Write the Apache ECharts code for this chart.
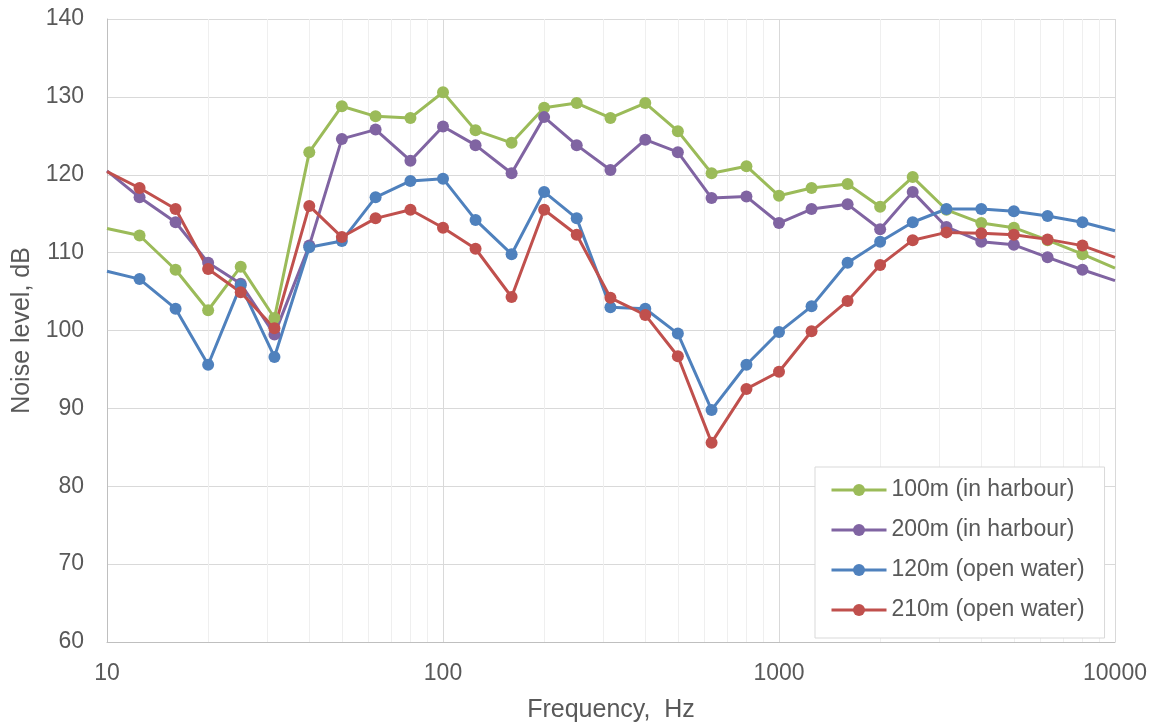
<!DOCTYPE html>
<html>
<head>
<meta charset="utf-8">
<script src="https://cdn.jsdelivr.net/npm/echarts@6/dist/echarts.min.js"></script>
<style>html,body{margin:0;padding:0;background:#fff}#c{width:1152px;height:722px}</style>
</head>
<body>
<div id="c"></div>
<script>
var freqs = [10,12.5,16,20,25,31.5,40,50,63,80,100,125,160,200,250,315,400,500,630,800,1000,1250,1600,2000,2500,3150,4000,5000,6300,8000,10000];
var harbour100 = [113.1,112.2,107.8,102.6,108.2,101.6,122.9,128.8,127.5,127.3,130.6,125.7,124.1,128.6,129.2,127.3,129.2,125.6,120.2,121.1,117.3,118.3,118.8,115.9,119.7,115.5,113.8,113.2,111.6,109.8,108.0];
var harbour200 = [120.5,117.1,113.9,108.7,106.0,99.5,110.9,124.6,125.8,121.8,126.2,123.8,120.2,127.4,123.8,120.6,124.5,122.9,117.0,117.2,113.8,115.6,116.2,113.0,117.8,113.3,111.4,111.0,109.4,107.8,106.4];
var open120 = [107.6,106.6,102.8,95.6,105.8,96.6,110.7,111.5,117.1,119.2,119.5,114.2,109.8,117.8,114.4,103.0,102.8,99.6,89.8,95.6,99.8,103.1,108.7,111.4,113.9,115.6,115.6,115.3,114.7,113.9,112.8];
var open210 = [120.4,118.3,115.6,107.9,104.9,100.3,116.0,112.0,114.4,115.5,113.2,110.5,104.3,115.5,112.3,104.2,102.0,96.7,85.6,92.5,94.7,99.9,103.8,108.4,111.6,112.6,112.5,112.3,111.7,110.9,109.4];
var seriesNames = ['100m (in harbour)','200m (in harbour)','120m (open water)','210m (open water)'];
var seriesColors = ['#9BBB59','#8064A2','#4F81BD','#C0504D'];
var minorFreqs = [20,30,40,50,60,70,80,90,200,300,400,500,600,700,800,900,2000,3000,4000,5000,6000,7000,8000,9000];
var yTicks = {min:60, max:140, interval:10};

function pairs(arr){ return freqs.map(function(f,i){ return [f, arr[i]]; }); }
var allData = [harbour100, harbour200, open120, open210];
var FONT = 'Liberation Sans, Arial, sans-serif';

var series = [{
  type:'line', data:[], silent:true, z:1,
  markLine:{
    silent:true, z:1, zlevel:0, symbol:['none','none'], animation:false,
    label:{show:false},
    lineStyle:{color:'#efefef', width:1, type:'solid'},
    emphasis:{disabled:true},
    data: minorFreqs.map(function(f){ return {xAxis:f}; })
  }
}];
allData.forEach(function(arr, k){
  series.push({
    name: seriesNames[k], type:'line', data: pairs(arr), z:3,
    color: seriesColors[k],
    symbol:'circle',
    symbolSize: function(v){ return (v[0]===10||v[0]===10000)?0:12; },
    lineStyle:{width:3, color:seriesColors[k]},
    itemStyle:{color:seriesColors[k]},
    animation:false
  });
});

var chart = echarts.init(document.getElementById('c'));
chart.setOption({
  backgroundColor:'#fff',
  grid:{left:107, right:37, top:19, bottom:80, containLabel:false, outerBoundsMode:'none'},
  xAxis:{
    type:'log', logBase:10, min:10, max:10000,
    name:'Frequency,  Hz', nameLocation:'middle', nameGap:56,
    nameTextStyle:{fontFamily:FONT, fontSize:25, color:'#595959'},
    axisLine:{show:true, lineStyle:{color:'#bfbfbf', width:1}},
    axisTick:{show:false},
    axisLabel:{fontFamily:FONT, fontSize:23, color:'#595959', margin:20,
      formatter:function(v){ return String(Math.round(v)); }},
    splitLine:{show:true, lineStyle:{color:'#d9d9d9', width:1}}
  },
  yAxis:{
    type:'value', min:yTicks.min, max:yTicks.max, interval:yTicks.interval,
    name:'Noise level, dB', nameLocation:'middle', nameGap:72, nameRotate:90,
    nameTextStyle:{fontFamily:FONT, fontSize:25, color:'#595959'},
    axisLine:{show:true, lineStyle:{color:'#bfbfbf', width:1}},
    axisTick:{show:false},
    axisLabel:{fontFamily:FONT, fontSize:23, color:'#595959', margin:23},
    splitLine:{show:true, lineStyle:{color:'#d9d9d9', width:1}}
  },
  legend:{
    data: seriesNames,
    orient:'vertical', left:815, top:467,
    backgroundColor:'#fff', borderColor:'#d9d9d9', borderWidth:1,
    padding:[11,20,16,15],
    itemWidth:55, itemHeight:15, itemGap:16,
    lineStyle:{width:3},
    textStyle:{fontFamily:FONT, fontSize:23, color:'#595959', lineHeight:24}
  },
  series: series
});
</script>
</body>
</html>
